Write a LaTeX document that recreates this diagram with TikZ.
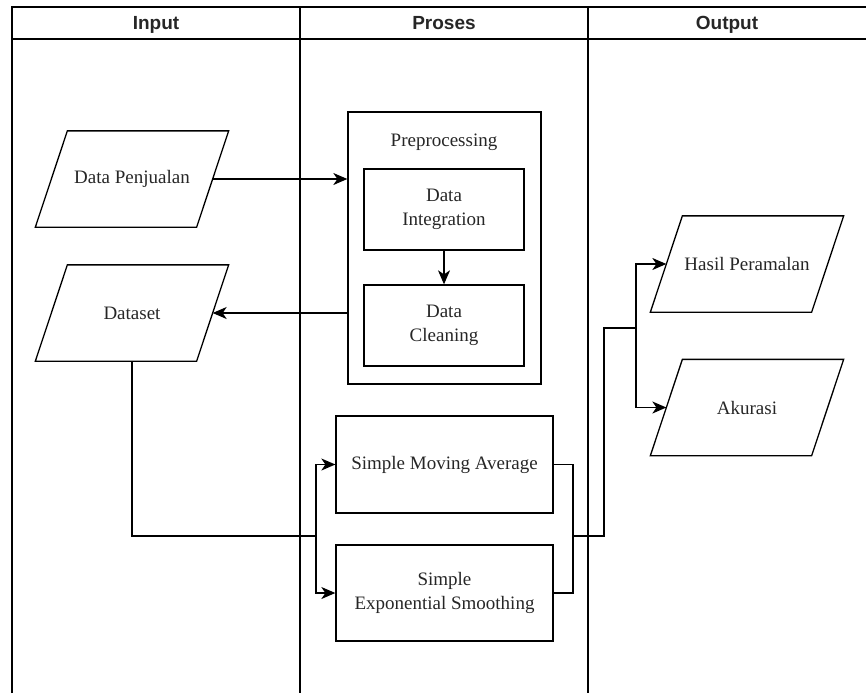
\documentclass[tikz,border=0pt]{standalone}
\usepackage{fontspec}
\setmainfont{Liberation Serif}
\newfontfamily\lanefont{Liberation Sans}
\usepackage{xcolor}
\usetikzlibrary{positioning,arrows.meta}

\begin{document}
\begin{tikzpicture}[x=1pt,y=-1pt,line width=1.3pt,
  font=\fontsize{19}{24}\selectfont,
  lane/.style={anchor=base,font=\lanefont\fontsize{19}{24}\selectfont\bfseries,text=black!85},
  box/.style={draw,rectangle,align=center,inner sep=0pt,text=black!85},
  io/.style={rectangle,minimum width=160pt,minimum height=95pt,inner sep=0pt,
    align=center,text=black!85},
  arr/.style={-{Stealth[length=14pt,width=12pt,inset=4pt]}}]
\useasboundingbox (0,0) rectangle (866,693);
\draw (12,693) -- (12,7) -- (866,7);
\draw (12,39) -- (866,39);
\draw (300,7) -- (300,693);
\draw (588,7) -- (588,693);
\node[lane] (hin) at (156,29.5) {Input};
\node[lane] (hpr) at (444,29.5) {Proses};
\node[lane] (hout) at (727,29.5) {Output};
\node[io] (dpj) at (132,179) {Data Penjualan};
\node[io] (dset) at (132,313) {Dataset};
\node[box,minimum width=193pt,minimum height=272pt] (prep) at (444.5,248) {};
\node[text=black!85] (preplbl) at (444,142) {Preprocessing};
\node[box,minimum width=160pt,minimum height=81pt] (integ) at (444,209.5) {Data\\Integration};
\node[box,minimum width=160pt,minimum height=81pt] (clean) at (444,325.5) {Data\\Cleaning};
\node[box,minimum width=217pt,minimum height=97pt] (sma) at (444.5,464.5) {Simple Moving Average};
\node[box,minimum width=217pt,minimum height=96pt] (ses) at (444.5,593) {Simple\\Exponential Smoothing};
\node[io] (hasil) at (747,264) {Hasil Peramalan};
\node[io] (akur) at (747,407.5) {Akurasi};
\foreach \n in {dpj,dset,hasil,akur}
  \draw ([xshift=16pt]\n.north west) -- ([xshift=16pt]\n.north east)
    -- ([xshift=-16pt]\n.south east) -- ([xshift=-16pt]\n.south west) -- cycle;
\coordinate (jin) at (316,536);
\coordinate (jout) at (573,536);
\coordinate (bend) at (604,328);
\coordinate (jres) at (636,328);
\draw[arr] (dpj.east) -- (dpj.east -| prep.west);
\draw[arr] (integ) -- (clean);
\draw[arr] (prep.west |- dset.east) -- (dset.east);
\draw (dset.south) |- (jin);
\draw[arr] (jin) |- (sma.west);
\draw[arr] (jin) |- (ses.west);
\draw (sma.east) -| (jout);
\draw (ses.east) -| (jout);
\draw (jout) -| (bend) -- (jres);
\draw[arr] (jres) |- (hasil.west);
\draw[arr] (jres) |- (akur.west);
\end{tikzpicture}
\end{document}
